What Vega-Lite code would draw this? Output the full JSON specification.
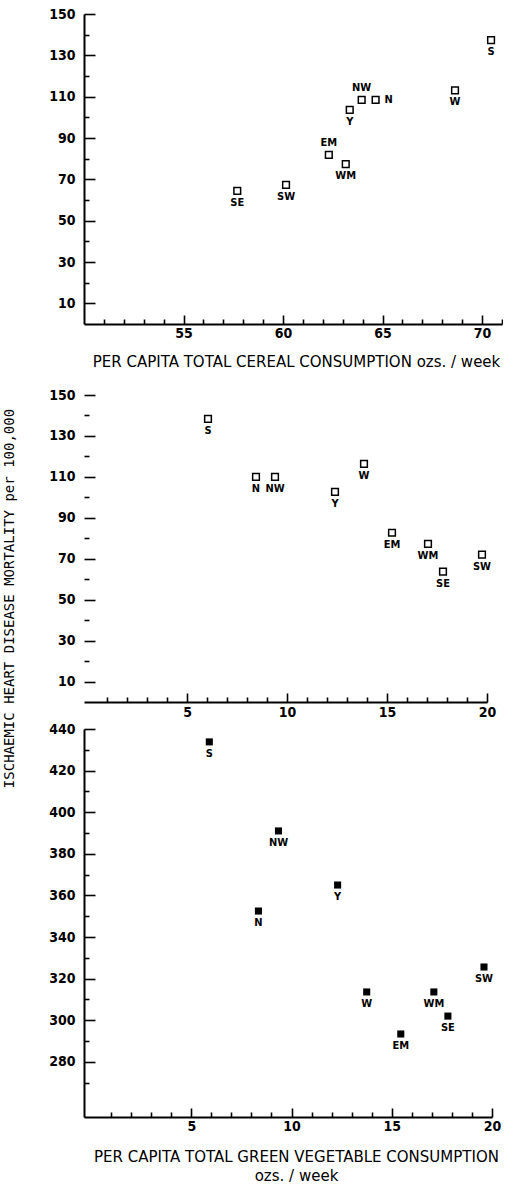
{
  "$schema": "https://vega.github.io/schema/vega-lite/v6.json",
  "background": "white",
  "padding": {"left": 1, "top": 7, "right": 0, "bottom": 0},
  "bounds": "flush",
  "spacing": 27,
  "config": {
    "view": {"stroke": null},
    "axis": {"domainColor": "black", "domainWidth": 2, "tickColor": "black", "tickWidth": 1.6, "labelColor": "black", "labelFont": "DejaVu Sans Condensed", "labelFontWeight": "bold", "labelFontSize": 14, "titleColor": "black", "grid": false, "labelOverlap": false, "labelBound": false, "labelFlush": false},
    "text": {"font": "DejaVu Sans Condensed", "fontWeight": "bold", "fontSize": 11, "color": "black"}
  },
  "datasets": {
    "cereal": [
      {"region": "S", "consumption": 70.45, "mortality": 137.4},
      {"region": "W", "consumption": 68.64, "mortality": 113},
      {"region": "N", "consumption": 64.65, "mortality": 108.4},
      {"region": "NW", "consumption": 63.95, "mortality": 108.4},
      {"region": "Y", "consumption": 63.35, "mortality": 103.6},
      {"region": "EM", "consumption": 62.3, "mortality": 81.8},
      {"region": "WM", "consumption": 63.15, "mortality": 77.4},
      {"region": "SW", "consumption": 60.15, "mortality": 67.3},
      {"region": "SE", "consumption": 57.7, "mortality": 64.4}
    ],
    "vegwomen": [
      {"region": "S", "consumption": 6.05, "mortality": 138.3},
      {"region": "N", "consumption": 8.45, "mortality": 110},
      {"region": "NW", "consumption": 9.4, "mortality": 110},
      {"region": "Y", "consumption": 12.4, "mortality": 102.7},
      {"region": "W", "consumption": 13.85, "mortality": 116.3},
      {"region": "EM", "consumption": 15.25, "mortality": 82.7},
      {"region": "WM", "consumption": 17.05, "mortality": 77.3},
      {"region": "SE", "consumption": 17.8, "mortality": 63.7},
      {"region": "SW", "consumption": 19.75, "mortality": 72}
    ],
    "vegmen": [
      {"region": "S", "consumption": 5.9, "mortality": 433.8},
      {"region": "NW", "consumption": 9.35, "mortality": 391},
      {"region": "Y", "consumption": 12.3, "mortality": 365},
      {"region": "N", "consumption": 8.35, "mortality": 352.5},
      {"region": "W", "consumption": 13.75, "mortality": 313.6},
      {"region": "WM", "consumption": 17.1, "mortality": 313.6},
      {"region": "SE", "consumption": 17.8, "mortality": 302},
      {"region": "SW", "consumption": 19.6, "mortality": 325.6},
      {"region": "EM", "consumption": 15.45, "mortality": 293.4}
    ]
  },
  "vconcat": [
    {
      "width": 418,
      "height": 310,
      "data": {"name": "cereal"},
      "encoding": {
        "x": {"field": "consumption", "type": "quantitative",
          "scale": {"domain": [50, 71], "nice": false, "zero": false},
          "axis": {"values": [51,52,53,54,55,56,57,58,59,60,61,62,63,64,65,66,67,68,69,70,71],
            "labelExpr": "datum.value % 5 === 0 ? datum.label : ''",
            "tickSize": {"condition": {"test": "datum.value % 5 === 0", "value": -9}, "value": -5},
            "labelPadding": 11,
            "title": "PER CAPITA TOTAL CEREAL CONSUMPTION ozs. / week",
            "titleFont": "DejaVu Sans", "titleFontSize": 15, "titleFontWeight": "normal",
            "titleX": 212, "titleY": 30, "titleBaseline": "top", "titleAlign": "center"}},
        "y": {"field": "mortality", "type": "quantitative",
          "scale": {"domain": [0, 150], "nice": false, "zero": false},
          "axis": {"values": [10,20,30,40,50,60,70,80,90,100,110,120,130,140,150],
            "labelExpr": "datum.value % 20 === 10 ? datum.label : ''",
            "tickSize": {"condition": {"test": "datum.value % 20 === 10", "value": -11}, "value": -5},
            "labelPadding": 20, "title": null}}
      },
      "layer": [
        {"mark": {"type": "point", "shape": "square", "filled": false, "size": 45, "strokeWidth": 1.5, "color": "black", "opacity": 1}},
        {"transform": [{"filter": {"field": "region", "oneOf": ["S", "W", "Y", "WM", "SW", "SE"]}}],
         "mark": {"type": "text", "dy": 12},
         "encoding": {"text": {"field": "region"}}},
        {"transform": [{"filter": {"field": "region", "oneOf": ["NW", "EM"]}}],
         "mark": {"type": "text", "dy": -12},
         "encoding": {"text": {"field": "region"}}},
        {"transform": [{"filter": {"field": "region", "oneOf": ["N"]}}],
         "mark": {"type": "text", "dx": 13},
         "encoding": {"text": {"field": "region"}}},
        {"data": {"values": [{}]},
         "mark": {"type": "text", "text": "WOMEN", "align": "left", "baseline": "middle", "font": "DejaVu Sans", "fontSize": 12},
         "encoding": {"x": {"datum": 51.25}, "y": {"datum": 140.8}}}
      ]
    },
    {
      "width": 403,
      "height": 351,
      "data": {"name": "vegwomen"},
      "encoding": {
        "x": {"field": "consumption", "type": "quantitative",
          "scale": {"domain": [-0.15, 20], "nice": false, "zero": false},
          "axis": {"values": [1,2,3,4,5,6,7,8,9,10,11,12,13,14,15,16,17,18,19,20],
            "labelExpr": "datum.value % 5 === 0 ? datum.label : ''",
            "tickSize": {"condition": {"test": "datum.value % 5 === 0", "value": -9}, "value": -5},
            "labelPadding": 12, "title": null}},
        "y": {"field": "mortality", "type": "quantitative",
          "scale": {"domain": [0, 171.5], "nice": false, "zero": false},
          "axis": {"values": [10,20,30,40,50,60,70,80,90,100,110,120,130,140,150],
            "labelExpr": "datum.value % 20 === 10 ? datum.label : ''",
            "tickSize": {"condition": {"test": "datum.value % 20 === 10", "value": -11}, "value": -5},
            "labelPadding": 20, "domain": false,
            "title": "ISCHAEMIC HEART DISEASE MORTALITY per 100,000",
            "titleFont": "DejaVu Sans Mono", "titleFontSize": 14, "titleFontWeight": "normal",
            "titleAngle": -90, "titleBaseline": "bottom", "titleAlign": "center",
            "titleX": -68, "titleY": 247}}
      },
      "layer": [
        {"data": {"values": [{}]},
         "mark": {"type": "rule", "color": "black", "strokeWidth": 2},
         "encoding": {"x": {"datum": -0.15}, "y": {"datum": 0}, "y2": {"datum": 150}}},
        {"mark": {"type": "point", "shape": "square", "filled": false, "size": 45, "strokeWidth": 1.5, "color": "black", "opacity": 1}},
        {"mark": {"type": "text", "dy": 12},
         "encoding": {"text": {"field": "region"}}},
        {"data": {"values": [{}]},
         "mark": {"type": "text", "text": "WOMEN", "align": "left", "baseline": "middle", "font": "DejaVu Sans", "fontSize": 12},
         "encoding": {"x": {"datum": 1.35}, "y": {"datum": 144.1}}}
      ]
    },
    {
      "width": 408,
      "height": 388,
      "data": {"name": "vegmen"},
      "encoding": {
        "x": {"field": "consumption", "type": "quantitative",
          "scale": {"domain": [-0.35, 20], "nice": false, "zero": false},
          "axis": {"values": [1,2,3,4,5,6,7,8,9,10,11,12,13,14,15,16,17,18,19,20],
            "labelExpr": "datum.value % 5 === 0 ? datum.label : ''",
            "tickSize": {"condition": {"test": "datum.value % 5 === 0", "value": -9}, "value": -5},
            "labelPadding": 11,
            "title": ["PER CAPITA TOTAL GREEN VEGETABLE CONSUMPTION", "ozs. / week"],
            "titleFont": "DejaVu Sans", "titleFontSize": 15, "titleFontWeight": "normal", "titleLineHeight": 19,
            "titleX": 212, "titleY": 32, "titleBaseline": "top", "titleAlign": "center"}},
        "y": {"field": "mortality", "type": "quantitative",
          "scale": {"domain": [253.5, 440], "nice": false, "zero": false},
          "axis": {"values": [270,280,290,300,310,320,330,340,350,360,370,380,390,400,410,420,430,440],
            "labelExpr": "datum.value % 20 === 0 ? datum.label : ''",
            "tickSize": {"condition": {"test": "datum.value % 20 === 0", "value": -11}, "value": -5},
            "labelPadding": 20, "title": null}}
      },
      "layer": [
        {"mark": {"type": "point", "shape": "square", "filled": true, "size": 50, "color": "black", "opacity": 1}},
        {"mark": {"type": "text", "dy": 12},
         "encoding": {"text": {"field": "region"}}},
        {"data": {"values": [{}]},
         "mark": {"type": "text", "text": "MEN", "align": "left", "baseline": "middle", "font": "DejaVu Sans", "fontSize": 12},
         "encoding": {"x": {"datum": 1.55}, "y": {"datum": 430}}},
        {"data": {"values": [{}]},
         "mark": {"type": "text", "text": "≈", "align": "left", "baseline": "middle", "font": "DejaVu Sans", "fontSize": 16, "dx": -6},
         "encoding": {"x": {"datum": -0.35}, "y": {"datum": 264}}}
      ]
    }
  ]
}
